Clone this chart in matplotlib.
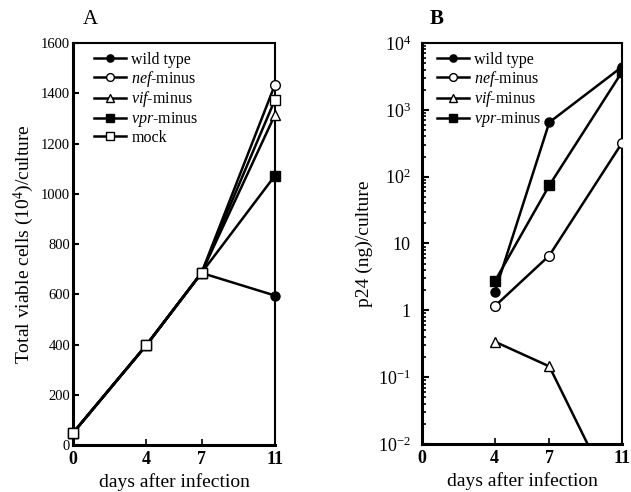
import matplotlib
matplotlib.use('Agg')
import matplotlib.pyplot as plt
from matplotlib.ticker import FixedLocator, LogLocator, NullFormatter

plt.rcParams['font.family'] = ['Liberation Serif', 'DejaVu Serif']
plt.rcParams['mathtext.fontset'] = 'custom'
plt.rcParams['mathtext.rm'] = 'Liberation Serif'
plt.rcParams['mathtext.it'] = 'Liberation Serif:italic'
plt.rcParams['mathtext.bf'] = 'Liberation Serif:bold'

days = [0, 4, 7, 11]
labels = ['wild type', r'$\mathit{nef}$-minus', r'$\mathit{vif}$-minus',
          r'$\mathit{vpr}$-minus', 'mock']

# panel A: viable cells (10^4)/culture
cells_wt = [48, 398, 685, 595]
cells_nef = [48, 398, 685, 1434]
cells_vif = [48, 398, 685, 1314]
cells_vpr = [48, 398, 685, 1072]
cells_mock = [48, 398, 685, 1374]

# panel B: p24 (ng)/culture, days 4, 7, 11
p24_days = [4, 7, 11]
p24_wt = [1.85, 650, 4400]
p24_nef = [1.15, 6.6, 320]
p24_vif = [0.34, 0.145, 0.0009]
p24_vpr = [2.7, 74, 3700]

styles = [dict(marker='o', mfc='black'),
          dict(marker='o', mfc='white'),
          dict(marker='^', mfc='white'),
          dict(marker='s', mfc='black'),
          dict(marker='s', mfc='white')]
msizes = [6.5, 7, 6.5, 7, 7.5]

fig = plt.figure(figsize=(6.31, 4.92), dpi=100)
axA = fig.add_axes([0.1157, 0.0955, 0.320, 0.817])
axB = fig.add_axes([0.6688, 0.0976, 0.317, 0.815])

seriesA = [cells_wt, cells_nef, cells_vif, cells_vpr, cells_mock]
for i, ys in enumerate(seriesA):
    axA.plot(days, ys, color='black', lw=1.8, mec='black', mew=1.0,
             ms=msizes[i], label=labels[i], clip_on=False, zorder=3 + i, **styles[i])

axA.set_xlim(0, 11)
axA.set_ylim(0, 1600)
axA.set_yticks(range(0, 1601, 200))
axA.set_xticks(days)
axA.set_xticklabels(['0', '4', '7', '11'], fontweight='bold', fontsize=13)
axA.tick_params(axis='y', labelsize=10.5, direction='in', length=4, width=1.5, pad=2)
axA.tick_params(axis='x', direction='in', length=4, width=1.2, pad=4)
axA.tick_params(top=False, right=False)
axA.set_ylabel('Total viable cells (10$^4$)/culture', fontsize=14, labelpad=4)
axA.set_xlabel('days after infection', fontsize=14, labelpad=4)
axA.text(0.05, 1.035, 'A', transform=axA.transAxes, fontsize=15, ha='left', va='bottom')
axA.legend(loc='upper left', frameon=False, fontsize=11.5, handlelength=2.0,
           labelspacing=0.05, handletextpad=0.35, borderaxespad=0.15,
           markerscale=0.8, bbox_to_anchor=(0.06, 1.0))

seriesB = [p24_wt, p24_nef, p24_vif, p24_vpr]
for i, ys in enumerate(seriesB):
    axB.plot(p24_days, ys, color='black', lw=1.8, mec='black', mew=1.0,
             ms=msizes[i], label=labels[i], zorder=3 + i, **styles[i])

axB.set_yscale('log')
axB.set_xlim(0, 11)
axB.set_ylim(1e-2, 1e4)
axB.set_xticks(days)
axB.set_xticklabels(['0', '4', '7', '11'], fontweight='bold', fontsize=13)
axB.yaxis.set_major_locator(FixedLocator([1e-2, 1e-1, 1, 10, 1e2, 1e3, 1e4]))
axB.set_yticklabels(['10$^{-2}$', '10$^{-1}$', '1', '10', '10$^2$', '10$^3$', '10$^4$'])
axB.yaxis.set_minor_locator(LogLocator(base=10, subs=range(2, 10), numticks=20))
axB.yaxis.set_minor_formatter(NullFormatter())
axB.tick_params(axis='y', which='major', labelsize=13, direction='in', length=5, width=1.5, pad=8)
axB.tick_params(axis='y', which='minor', direction='in', length=3, width=1.2)
axB.tick_params(axis='x', direction='in', length=4, width=1.2, pad=4)
axB.tick_params(which='both', top=False, right=False)
axB.set_ylabel('p24 (ng)/culture', fontsize=14, labelpad=4)
axB.set_xlabel('days after infection', fontsize=14, labelpad=4)
axB.text(0.04, 1.035, 'B', transform=axB.transAxes, fontsize=15, fontweight='bold',
         ha='left', va='bottom')
axB.legend(loc='upper left', frameon=False, fontsize=11.5, handlelength=2.0,
           labelspacing=0.05, handletextpad=0.35, borderaxespad=0.15,
           markerscale=0.8, bbox_to_anchor=(0.03, 1.0))

for ax in (axA, axB):
    ax.spines['left'].set_linewidth(2.2)
    ax.spines['bottom'].set_linewidth(2.2)
    ax.spines['top'].set_linewidth(1.5)
    ax.spines['right'].set_linewidth(1.5)

fig.savefig('out.png', dpi=100)
